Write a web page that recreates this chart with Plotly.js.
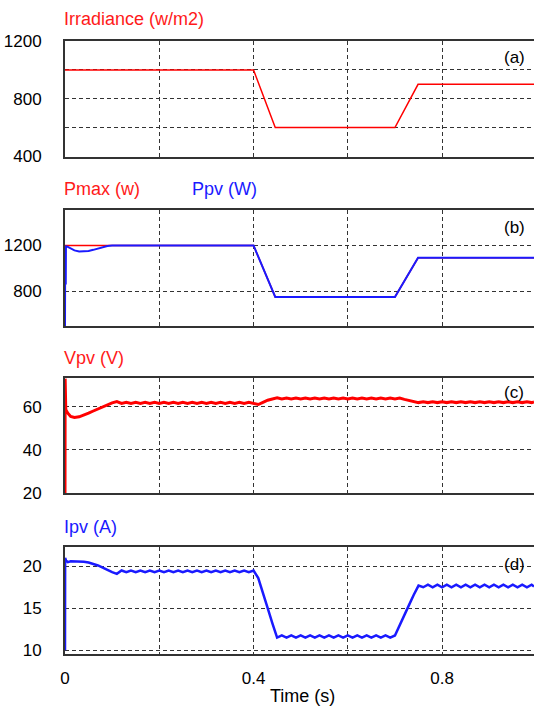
<!DOCTYPE html>
<html>
<head>
<meta charset="utf-8">
<script src="https://cdn.plot.ly/plotly-3.0.1.min.js"></script>
<style>html,body{margin:0;padding:0;background:#fff;}#chart{width:534px;height:709px;}</style>
</head>
<body>
<div id="chart"></div>
<script>
// ---- data ----
const tStep = [0, 0.4, 0.446, 0.70, 0.749, 0.995];
const irradiance = [1000, 1000, 600, 600, 900, 900];
const pmax = [1200, 1200, 753, 753, 1093, 1093];

const tPpv = [0, 0.0004, 0.0008, 0.0012, 0.0016, 0.002, 0.003, 0.006, 0.012, 0.02, 0.03, 0.04, 0.05, 0.06, 0.07, 0.08, 0.09, 0.1, 0.4, 0.446, 0.70, 0.749, 0.995];
const ppv = [500, 1200, 850, 1195, 860, 1190, 1192, 1188, 1172, 1157, 1148, 1147, 1152, 1162, 1175, 1188, 1196, 1200, 1200, 753, 753, 1093, 1093];

const tSim = [0, 0.0003, 0.0006, 0.001, 0.0013, 0.0016, 0.002, 0.006, 0.012, 0.02, 0.03, 0.04, 0.05, 0.06, 0.07, 0.08, 0.09,
  0.10, 0.11, 0.12, 0.13, 0.14, 0.15, 0.16, 0.17, 0.18, 0.19,
  0.20, 0.21, 0.22, 0.23, 0.24, 0.25, 0.26, 0.27, 0.28, 0.29,
  0.30, 0.31, 0.32, 0.33, 0.34, 0.35, 0.36, 0.37, 0.38, 0.39,
  0.40, 0.41, 0.42, 0.43, 0.44, 0.45, 0.46, 0.47, 0.48, 0.49,
  0.50, 0.51, 0.52, 0.53, 0.54, 0.55, 0.56, 0.57, 0.58, 0.59,
  0.60, 0.61, 0.62, 0.63, 0.64, 0.65, 0.66, 0.67, 0.68, 0.69,
  0.70, 0.71, 0.72, 0.73, 0.74, 0.75, 0.76, 0.77, 0.78, 0.79,
  0.80, 0.81, 0.82, 0.83, 0.84, 0.85, 0.86, 0.87, 0.88, 0.89,
  0.90, 0.91, 0.92, 0.93, 0.94, 0.95, 0.96, 0.97, 0.98, 0.99, 0.995];

const vpv = [20, 73, 40, 59, 40, 59, 58.5, 57, 55.5, 55, 55.3, 56, 57, 58, 59, 60, 61,
  61.8, 62.4, 61.5, 62.0, 61.5, 62.0, 61.5, 62.0, 61.5, 62.0,
  61.5, 62.0, 61.5, 62.0, 61.5, 62.0, 61.5, 62.0, 61.5, 62.0,
  61.5, 62.0, 61.5, 62.0, 61.5, 62.0, 61.5, 62.0, 61.5, 62.0,
  61.5, 61.0, 62.0, 63.0, 63.6, 64.1, 63.6, 64.0, 63.6, 64.0,
  63.6, 64.0, 63.6, 64.0, 63.6, 64.0, 63.6, 64.0, 63.6, 64.0,
  63.6, 64.0, 63.6, 64.0, 63.6, 64.0, 63.6, 64.0, 63.6, 64.0,
  63.6, 64.0, 63.4, 62.8, 62.2, 61.9, 62.3, 61.9, 62.3, 61.9,
  62.3, 61.9, 62.3, 61.9, 62.3, 61.9, 62.3, 61.9, 62.3, 61.9,
  62.3, 61.9, 62.3, 61.9, 62.3, 61.9, 62.3, 61.9, 62.3, 61.9, 62.2];

const ipv = [10, 21, 20.6, 20.9, 20.6, 20.8, 20.7, 20.5, 20.6, 20.6, 20.6, 20.55, 20.45, 20.3, 20.1, 19.85, 19.55,
  19.3, 19.1, 19.5, 19.3, 19.5, 19.3, 19.5, 19.3, 19.5, 19.3,
  19.5, 19.3, 19.5, 19.3, 19.5, 19.3, 19.5, 19.3, 19.5, 19.3,
  19.5, 19.3, 19.5, 19.3, 19.5, 19.3, 19.5, 19.3, 19.5, 19.3,
  19.5, 18.6, 16.9, 15.0, 13.2, 11.5, 11.75, 11.5, 11.75, 11.5,
  11.75, 11.5, 11.75, 11.5, 11.75, 11.5, 11.75, 11.5, 11.75, 11.5,
  11.75, 11.5, 11.75, 11.5, 11.75, 11.5, 11.75, 11.5, 11.75, 11.5,
  11.75, 12.9, 14.1, 15.4, 16.6, 17.7, 17.5, 17.8, 17.5, 17.8,
  17.5, 17.8, 17.5, 17.8, 17.5, 17.8, 17.5, 17.8, 17.5, 17.8,
  17.5, 17.8, 17.5, 17.8, 17.5, 17.8, 17.5, 17.8, 17.5, 17.8, 17.6];

const xTicks = [0, 0.2, 0.4, 0.6, 0.8];
const xTickText = ['0', '', '0.4', '', '0.8'];
const yTicksA = [400, 600, 800, 1000, 1200];
const yTextA = ['400', '', '800', '', '1200'];
const yTicksB = [800, 1200];
const yTicksC = [20, 40, 60];
const yTicksD = [10, 15, 20];

// ---- layout helpers ----
const W = 534, H = 709, L = 65;
const py = p => 1 - p / H;
const px = p => (p - L) / (W - L);
const FONT = 'Liberation Sans, Arial, sans-serif';

function xAx(anchor, labels) {
  return {
    anchor: anchor, domain: [0, 1], range: [0, 0.995],
    tickvals: xTicks, ticktext: xTickText, showticklabels: labels,
    ticks: '', ticklabelstandoff: 8,
    showline: true, linecolor: '#333', linewidth: 2, mirror: true,
    showgrid: true, gridcolor: '#333', gridwidth: 1, griddash: '4px,3px',
    zeroline: false, tickfont: {family: FONT, size: 17, color: '#000'}
  };
}
function yAx(anchor, dom, range, vals, text) {
  const a = {
    anchor: anchor, domain: dom, range: range, tickvals: vals,
    ticks: '', ticklabelstandoff: 18,
    showline: true, linecolor: '#333', linewidth: 2, mirror: false,
    showgrid: true, gridcolor: '#333', gridwidth: 1, griddash: '4px,3px',
    zeroline: false, tickfont: {family: FONT, size: 17, color: '#000'}
  };
  if (text) a.ticktext = text;
  return a;
}

const traces = [
  {x: tStep, y: irradiance, xaxis: 'x', yaxis: 'y', mode: 'lines', line: {color: '#ff0000', width: 1.5}},
  {x: tStep, y: pmax, xaxis: 'x2', yaxis: 'y2', mode: 'lines', line: {color: '#ff0000', width: 1.5}},
  {x: tPpv, y: ppv, xaxis: 'x2', yaxis: 'y2', mode: 'lines', line: {color: '#1a1aff', width: 2}},
  {x: tSim, y: vpv, xaxis: 'x3', yaxis: 'y3', mode: 'lines', line: {color: '#ff0000', width: 3}},
  {x: tSim, y: ipv, xaxis: 'x4', yaxis: 'y4', mode: 'lines', line: {color: '#1a1aff', width: 2.5}}
];

function ann(text, xp, yp, color, size, xanchor) {
  return {text: text, xref: 'paper', yref: 'paper', x: xp, y: yp, xanchor: xanchor || 'left', yanchor: 'middle',
    showarrow: false, font: {family: FONT, size: size, color: color}};
}

const layout = {
  width: W, height: H,
  margin: {l: L, r: 0, t: 0, b: 0},
  paper_bgcolor: '#fff', plot_bgcolor: '#fff',
  showlegend: false,
  xaxis: xAx('y', false),
  xaxis2: xAx('y2', false),
  xaxis3: xAx('y3', false),
  xaxis4: xAx('y4', true),
  yaxis: yAx('x', [py(156.5), py(41)], [400, 1200], yTicksA, yTextA),
  yaxis2: yAx('x2', [py(326), py(209.8)], [500, 1510], yTicksB),
  yaxis3: yAx('x3', [py(493), py(378)], [20, 73.3], yTicksC),
  yaxis4: yAx('x4', [py(653.5), py(547)], [9.6, 22.3], yTicksD),
  annotations: [
    ann('Irradiance (w/m2)', px(62), py(18.7), '#ff1a1a', 18),
    ann('Pmax (w)', px(62), py(188.7), '#ff1a1a', 18),
    ann('Ppv (W)', px(190), py(188.7), '#1a1aff', 18),
    ann('Vpv (V)', px(62), py(358), '#ff1a1a', 18),
    ann('Ipv (A)', px(62), py(527), '#1a1aff', 18),
    ann('(a)', px(514), py(58), '#000', 17, 'center'),
    ann('(b)', px(514), py(228), '#000', 17, 'center'),
    ann('(c)', px(514), py(392.7), '#000', 17, 'center'),
    ann('(d)', px(514), py(564.5), '#000', 17, 'center'),
    ann('Time (s)', px(302), py(696), '#000', 18, 'center')
  ]
};

Plotly.newPlot('chart', traces, layout, {staticPlot: true, displayModeBar: false});
</script>
</body>
</html>
